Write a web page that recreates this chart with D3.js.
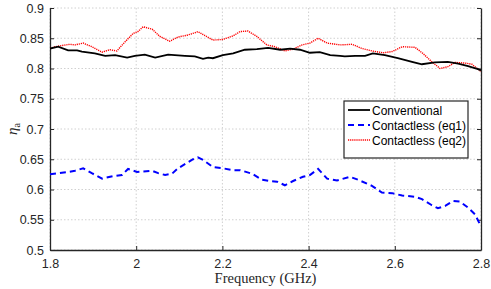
<!DOCTYPE html>
<html><head><meta charset="utf-8">
<script src="https://cdn.jsdelivr.net/npm/d3@7"></script>
<style>
html,body{margin:0;padding:0;background:#fff;}
svg text{font-family:"Liberation Sans",Arial,sans-serif;}
</style></head>
<body>
<svg id="chart" width="491" height="289"></svg>
<script>
const convF = [1.800,1.819,1.842,1.863,1.874,1.904,1.928,1.951,1.979,1.997,2.020,2.044,2.074,2.113,2.136,2.155,2.167,2.178,2.201,2.225,2.252,2.280,2.306,2.334,2.357,2.380,2.403,2.426,2.450,2.473,2.484,2.508,2.531,2.549,2.577,2.607,2.640,2.663,2.693,2.723,2.747,2.770,2.793,2.800];
const convV = [0.833,0.836,0.830,0.830,0.828,0.825,0.821,0.822,0.818,0.821,0.823,0.818,0.823,0.821,0.820,0.816,0.818,0.817,0.822,0.825,0.831,0.832,0.834,0.831,0.833,0.831,0.826,0.827,0.822,0.821,0.820,0.821,0.821,0.825,0.822,0.817,0.811,0.807,0.810,0.811,0.808,0.804,0.799,0.797];

const eq1F = [1.800,1.842,1.858,1.877,1.897,1.921,1.946,1.967,1.981,2.002,2.037,2.051,2.067,2.083,2.097,2.132,2.143,2.155,2.178,2.201,2.225,2.241,2.269,2.292,2.310,2.327,2.345,2.364,2.387,2.403,2.422,2.443,2.466,2.496,2.515,2.547,2.570,2.594,2.617,2.647,2.663,2.686,2.700,2.717,2.735,2.751,2.770,2.786,2.800];
const eq1V = [0.625,0.629,0.631,0.635,0.627,0.618,0.622,0.624,0.634,0.629,0.631,0.627,0.624,0.626,0.635,0.650,0.653,0.649,0.637,0.635,0.632,0.632,0.626,0.616,0.614,0.613,0.607,0.614,0.621,0.624,0.634,0.618,0.615,0.621,0.616,0.606,0.595,0.594,0.590,0.588,0.584,0.574,0.569,0.573,0.581,0.580,0.570,0.559,0.539];

const eq2F = [1.800,1.812,1.828,1.846,1.858,1.877,1.897,1.921,1.939,1.955,1.974,1.993,2.004,2.016,2.037,2.055,2.078,2.097,2.118,2.136,2.143,2.178,2.201,2.225,2.241,2.259,2.280,2.303,2.322,2.345,2.364,2.385,2.403,2.422,2.443,2.473,2.501,2.524,2.547,2.573,2.594,2.617,2.647,2.665,2.686,2.705,2.723,2.740,2.763,2.779,2.800];
const eq2V = [0.833,0.836,0.838,0.840,0.839,0.842,0.836,0.827,0.831,0.829,0.844,0.858,0.861,0.869,0.865,0.853,0.845,0.852,0.855,0.859,0.861,0.847,0.848,0.854,0.861,0.862,0.853,0.839,0.836,0.829,0.832,0.839,0.842,0.850,0.842,0.839,0.840,0.833,0.829,0.826,0.828,0.836,0.835,0.825,0.811,0.800,0.803,0.810,0.809,0.807,0.795];

const xTicks = [1.8,2,2.2,2.4,2.6,2.8];
const xTickLabels = ["1.8","2","2.2","2.4","2.6","2.8"];
const yTicks = [0.5,0.55,0.6,0.65,0.7,0.75,0.8,0.85,0.9];
const yTickLabels = ["0.5","0.55","0.6","0.65","0.7","0.75","0.8","0.85","0.9"];
const seriesNames = ["Conventional","Contactless (eq1)","Contactless (eq2)"];

const L=50,R=481,T=8,B=250;
const svg=d3.select("#chart");
const x=d3.scaleLinear().domain([1.8,2.8]).range([L,R]);
const y=d3.scaleLinear().domain([0.5,0.9]).range([B,T]);
const axCol="#262626";

// grid
const g=svg.append("g");
g.selectAll(".gx").data(xTicks).enter().append("line")
 .attr("x1",d=>x(d)).attr("x2",d=>x(d)).attr("y1",T).attr("y2",B)
 .attr("stroke","#d0d0d0").attr("stroke-width",1).attr("stroke-dasharray","1.5,2");
g.selectAll(".gy").data(yTicks).enter().append("line")
 .attr("x1",L).attr("x2",R).attr("y1",d=>y(d)).attr("y2",d=>y(d))
 .attr("stroke","#d0d0d0").attr("stroke-width",1).attr("stroke-dasharray","1.5,2");

// axes
const xAxis=d3.axisBottom(x).tickValues(xTicks).tickFormat((d,i)=>xTickLabels[i]).tickSizeInner(-4).tickSizeOuter(0).tickPadding(9);
const yAxis=d3.axisLeft(y).tickValues(yTicks).tickFormat((d,i)=>yTickLabels[i]).tickSizeInner(-4).tickSizeOuter(0).tickPadding(6);
const yAxisR=d3.axisRight(y).tickValues(yTicks).tickFormat("").tickSizeInner(-4).tickSizeOuter(0);

const gx=svg.append("g").attr("transform",`translate(0,${B})`).call(xAxis);
const gy=svg.append("g").attr("transform",`translate(${L},0)`).call(yAxis);
const gr=svg.append("g").attr("transform",`translate(${R},0)`).call(yAxisR);
[gx,gy,gr].forEach(a=>{
  a.select(".domain").attr("stroke",axCol).attr("stroke-width",1.3);
  a.selectAll(".tick line").attr("stroke",axCol).attr("stroke-width",1);
  a.selectAll(".tick text").attr("fill",axCol).style("font-size","12.5px");
});

// lines
const line=d3.line().x(d=>x(d[0])).y(d=>y(d[1]));
svg.append("clipPath").attr("id","cp").append("rect").attr("x",L).attr("y",T).attr("width",R-L).attr("height",B-T);
const plot=svg.append("g").attr("clip-path","url(#cp)");
plot.append("path").datum(eq1F.map((f,i)=>[f,eq1V[i]])).attr("d",line)
 .attr("fill","none").attr("stroke","#0000ff").attr("stroke-width",2).attr("stroke-dasharray","6,4");
plot.append("path").datum(eq2F.map((f,i)=>[f,eq2V[i]])).attr("d",line)
 .attr("fill","none").attr("stroke","#ff0000").attr("stroke-width",1.4).attr("stroke-dasharray","1.2,0.9");
plot.append("path").datum(convF.map((f,i)=>[f,convV[i]])).attr("d",line)
 .attr("fill","none").attr("stroke","#000").attr("stroke-width",1.8);

// legend
const lg=svg.append("g");
lg.append("rect").attr("x",344).attr("y",101).attr("width",124).attr("height",57)
 .attr("fill","#fff").attr("stroke",axCol).attr("stroke-width",1.2);
const styles=[{c:"#000",w:1.8,da:null},{c:"#0000ff",w:2,da:"6,4"},{c:"#ff0000",w:1.4,da:"1.2,0.9"}];
seriesNames.forEach((n,i)=>{
  const yy=110+i*15;
  const l=lg.append("line").attr("x1",348).attr("x2",370).attr("y1",yy).attr("y2",yy)
   .attr("stroke",styles[i].c).attr("stroke-width",styles[i].w);
  if(styles[i].da) l.attr("stroke-dasharray",styles[i].da);
  lg.append("text").attr("x",372).attr("y",yy+4.5).text(n).attr("fill","#000").style("font-size","12px");
});

// axis labels
svg.append("text").attr("x",(L+R)/2).attr("y",283).attr("text-anchor","middle")
 .style("font-family","'Liberation Serif',serif").style("font-size","14.5px").attr("fill",axCol)
 .text("Frequency (GHz)");
const yl=svg.append("text").attr("transform",`translate(17,${(T+B)/2}) rotate(-90)`).attr("text-anchor","middle")
 .style("font-family","'Liberation Serif',serif").style("font-size","15px").attr("fill",axCol);
yl.append("tspan").style("font-style","italic").text("η");
yl.append("tspan").attr("dy",3).style("font-size","10px").text("a");
</script>
</body></html>
